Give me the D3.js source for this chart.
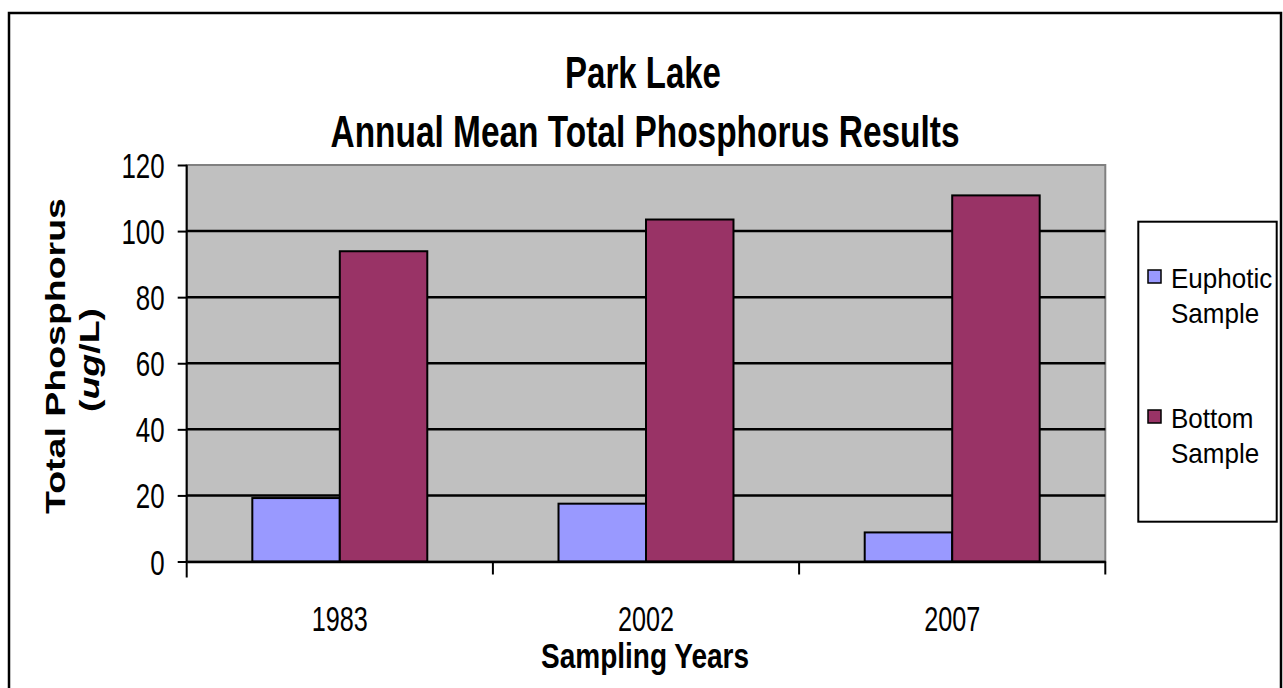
<!DOCTYPE html>
<html lang="en">
<head>
<meta charset="utf-8">
<title>Park Lake Total Phosphorus</title>
<script src="https://d3js.org/d3.v7.min.js"></script>
<style>
  html, body { margin: 0; padding: 0; background: #fff; }
  svg { display: block; font-family: "Liberation Sans", Arial, sans-serif; }
</style>
</head>
<body>
<svg id="chart" width="1283" height="688"></svg>
<script>
// data
var years = ['1983', '2002', '2007'];
var seriesNames = ['Euphotic Sample', 'Bottom Sample'];
var euphotic = [19.2, 17.5, 8.8];
var bottom = [93.9, 103.5, 110.8];
var yTicks = [0, 20, 40, 60, 80, 100, 120];

var colors = ['#9999ff', '#993366'];
var SX = 0.72; // the picture is squeezed sideways, so is the text

var svg = d3.select('#chart');
var plotL = 186.7, plotR = 1105.3, plotT = 165, plotB = 561.5;

var x = d3.scaleBand().domain(years).range([plotL, plotR]);
var y = d3.scaleLinear().domain([0, 120]).range([plotB, plotT]);

// outer frame
svg.append('rect')
  .attr('x', 9).attr('y', 13).attr('width', 1272).attr('height', 700)
  .attr('fill', 'none').attr('stroke', '#000').attr('stroke-width', 2.5);

// plot area
svg.append('rect')
  .attr('x', plotL).attr('y', plotT).attr('width', plotR - plotL).attr('height', plotB - plotT)
  .attr('fill', '#c0c0c0').attr('stroke', '#808080').attr('stroke-width', 2);

// gridlines
svg.append('g')
  .selectAll('line')
  .data(yTicks.slice(1, -1))
  .enter().append('line')
    .attr('x1', plotL).attr('x2', plotR)
    .attr('y1', d => y(d)).attr('y2', d => y(d))
    .attr('stroke', '#000').attr('stroke-width', 2.5);

// bars
var sub = x.bandwidth() / 3.5;
var rows = years.map((yr, i) => ({year: yr, vals: [euphotic[i], bottom[i]]}));
var group = svg.append('g').selectAll('g')
  .data(rows)
  .enter().append('g')
    .attr('transform', d => 'translate(' + (x(d.year) + sub * 0.75) + ',0)');

group.selectAll('rect')
  .data(d => d.vals)
  .enter().append('rect')
    .attr('x', (d, i) => i * sub)
    .attr('y', d => y(d))
    .attr('width', sub)
    .attr('height', d => plotB - y(d))
    .attr('fill', (d, i) => colors[i])
    .attr('stroke', '#000')
    .attr('stroke-width', 2);

// y axis
var yAxis = svg.append('g')
  .attr('transform', 'translate(' + plotL + ',0)')
  .call(d3.axisLeft(y).tickValues(yTicks).tickSize(9).tickSizeOuter(0));
yAxis.select('.domain').attr('stroke', '#000').attr('stroke-width', 2).attr('d', 'M0,' + plotT + 'V' + (plotB + 16));
yAxis.selectAll('.tick line').attr('stroke', '#000').attr('stroke-width', 2);
yAxis.selectAll('.tick text')
  .attr('x', null).attr('dy', null)
  .attr('transform', 'translate(-22,12.5) scale(' + SX + ',1)')
  .attr('fill', '#000')
  .style('font-size', '36px');

// x axis
var xAxis = svg.append('g')
  .attr('transform', 'translate(0,' + plotB + ')')
  .call(d3.axisBottom(x).tickSize(0).tickSizeOuter(0));
xAxis.select('.domain').attr('stroke', '#000').attr('stroke-width', 2.5);
xAxis.selectAll('.tick text')
  .attr('y', null).attr('dy', null)
  .attr('transform', 'translate(0,69) scale(' + SX + ',1)')
  .attr('fill', '#000')
  .style('font-size', '35px');
xAxis.append('g').selectAll('line')
  .data(years.slice(1).concat(['end']))
  .enter().append('line')
    .attr('x1', d => d === 'end' ? plotR : x(d))
    .attr('x2', d => d === 'end' ? plotR : x(d))
    .attr('y1', 0).attr('y2', 13)
    .attr('stroke', '#000').attr('stroke-width', 2);

// titles
function squeezed(txt, cx, cy, size, sx, weight) {
  return svg.append('text')
    .attr('transform', 'translate(' + cx + ',' + cy + ') scale(' + sx + ',1)')
    .attr('text-anchor', 'middle')
    .attr('font-weight', weight)
    .style('font-size', size + 'px')
    .text(txt);
}
squeezed('Park Lake', 643, 88, 44, 0.75, 'bold');
squeezed('Annual Mean Total Phosphorus Results', 645, 147, 44, 0.76, 'bold');
squeezed('Sampling Years', 645, 668, 35, 0.8, 'bold');

var yt = svg.append('text')
  .attr('transform', 'translate(65,356) scale(0.755,1) rotate(-90)')
  .attr('text-anchor', 'middle')
  .attr('font-weight', 'bold')
  .style('font-size', '37.5px')
  .text('Total Phosphorus');
var yt2 = svg.append('text')
  .attr('transform', 'translate(99,360) scale(0.755,1) rotate(-90)')
  .attr('text-anchor', 'middle')
  .attr('font-weight', 'bold')
  .style('font-size', '37.5px');
yt2.append('tspan').text('(');
yt2.append('tspan').attr('font-style', 'italic').text('ug');
yt2.append('tspan').text('/L)');

// legend
svg.append('rect')
  .attr('x', 1138.3).attr('y', 221.7).attr('width', 138.4).attr('height', 300)
  .attr('fill', '#fff').attr('stroke', '#000').attr('stroke-width', 2);

var legendBase = [288, 428];
var leg = svg.append('g').selectAll('g')
  .data(seriesNames)
  .enter().append('g')
    .attr('transform', (d, i) => 'translate(1148,' + legendBase[i] + ')');
leg.append('rect')
  .attr('x', 0).attr('y', -18).attr('width', 13).attr('height', 13)
  .attr('fill', (d, i) => colors[i])
  .attr('stroke', '#000').attr('stroke-width', 1.5);
leg.append('text')
  .attr('transform', 'translate(23,0) scale(0.93,1)')
  .style('font-size', '28px')
  .selectAll('tspan')
  .data(d => d.split(' '))
  .enter().append('tspan')
    .attr('x', 0)
    .attr('dy', (d, i) => i === 0 ? 0 : 35.5)
    .text(d => d);
</script>
</body>
</html>
